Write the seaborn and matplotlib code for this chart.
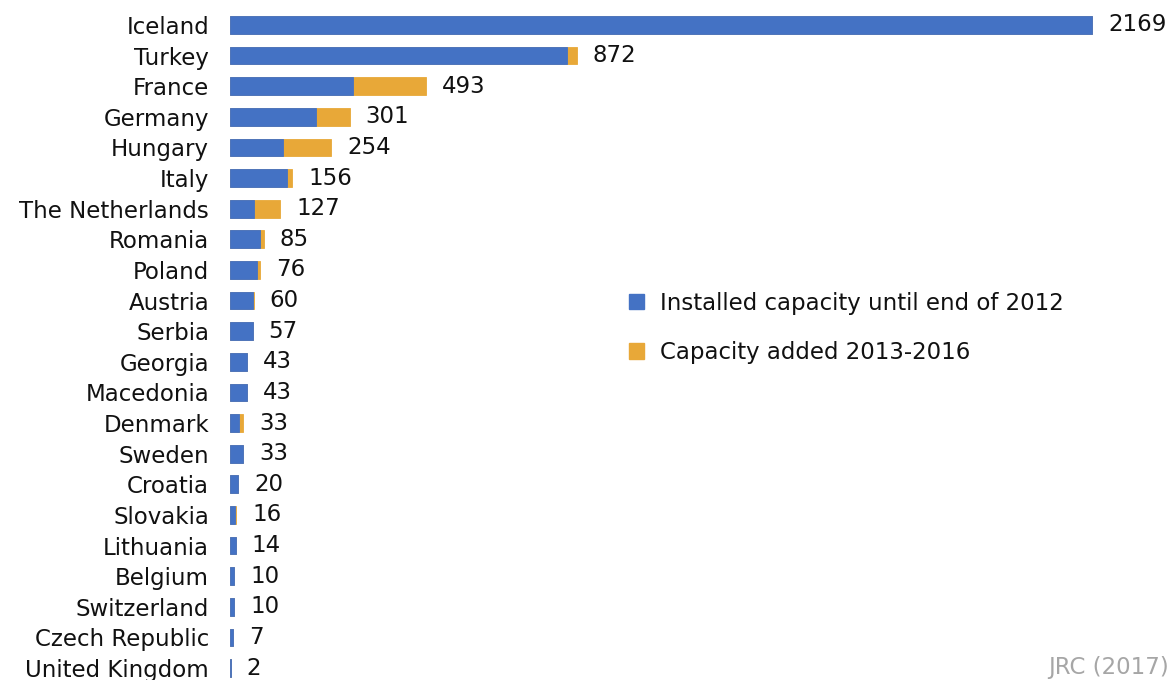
import numpy as np
import pandas as pd
import matplotlib
matplotlib.use("Agg")
import matplotlib.pyplot as plt
import seaborn as sns
from matplotlib.patches import Patch

# data (MW)
countries = ["Iceland", "Turkey", "France", "Germany", "Hungary", "Italy",
             "The Netherlands", "Romania", "Poland", "Austria", "Serbia",
             "Georgia", "Macedonia", "Denmark", "Sweden", "Croatia", "Slovakia",
             "Lithuania", "Belgium", "Switzerland", "Czech Republic",
             "United Kingdom"]
installed_2012 = [2169, 848, 310, 216, 133, 143, 61, 76, 69, 59, 57,
                  43, 43, 23, 33, 20, 13, 14, 10, 10, 7, 2]
added_2013_2016 = [0, 24, 183, 85, 121, 13, 66, 9, 7, 1, 0,
                   0, 0, 10, 0, 0, 3, 0, 0, 0, 0, 0]

df = pd.DataFrame({"country": countries,
                   "installed": installed_2012,
                   "added": added_2013_2016})
df["total"] = df["installed"] + df["added"]

blue = "#4472C4"
orange = "#E8A838"
fs = 16.5

sns.set_style("white")
plt.rcParams["font.family"] = ["DejaVu Sans"]

fig = plt.figure(figsize=(11.76, 6.8), dpi=100)
ax = fig.add_axes([230 / 1176, 0, 1 - 230 / 1176, 1])

# stacked bars: total in orange, installed part in blue on top
sns.barplot(data=df, y="country", x="total", color=orange, orient="h",
            width=0.58, saturation=1, edgecolor=orange, linewidth=0.6, ax=ax)
sns.barplot(data=df, y="country", x="installed", color=blue, orient="h",
            width=0.58, saturation=1, edgecolor=blue, linewidth=0.6, ax=ax)

ax.set_xlim(0, 2380)
ax.set_ylim(21.39, -0.816)
ax.set_xlabel("")
ax.set_ylabel("")
ax.set_xticks([])
sns.despine(ax=ax, left=True, bottom=True)
ax.tick_params(axis="y", length=0, pad=15, labelsize=fs, labelcolor="#111111")

for i, tot in enumerate(df["total"]):
    ax.annotate(str(tot), xy=(tot, i), xytext=(16, 0), textcoords="offset pixels",
                ha="left", va="center", fontsize=fs, color="#111111")

handles = [Patch(color=blue, label="Installed capacity until end of 2012"),
           Patch(color=orange, label="Capacity added 2013-2016")]
fig.legend(handles=handles, loc="upper left", bbox_to_anchor=(608 / 1176, 1 - 271 / 680),
           frameon=False, fontsize=fs, handlelength=0.65, handleheight=0.65,
           handletextpad=0.72, labelspacing=1.15, labelcolor="#111111")

fig.text(1048 / 1176, 1 - 679 / 680, "JRC (2017)", fontsize=fs, color="#A6A6A6",
         ha="left", va="bottom")

fig.savefig("out.png", dpi=100)
